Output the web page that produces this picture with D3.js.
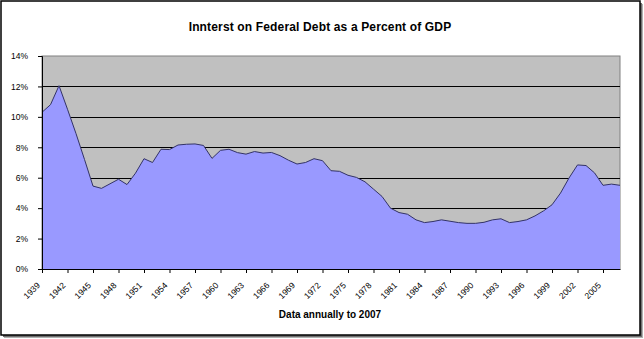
<!DOCTYPE html>
<html>
<head>
<meta charset="utf-8">
<script src="https://cdn.jsdelivr.net/npm/d3@7"></script>
<style>
  body { margin: 0; background: #fff; }
  svg { display: block; font-family: Arial, "Liberation Sans", sans-serif; }
</style>
</head>
<body>
<div id="chart"></div>
<script>
// interest on federal debt, % of GDP
var years = d3.range(1939, 2008);
var pctGdp = [10.3, 10.8, 12.05, 10.5, 8.9, 7.2, 5.45, 5.3, 5.6, 5.9,
  5.55, 6.3, 7.25, 7.0, 7.87, 7.85, 8.15, 8.2, 8.22, 8.12,
  7.27, 7.8, 7.87, 7.65, 7.55, 7.72, 7.62, 7.66, 7.45, 7.15,
  6.9, 7.0, 7.25, 7.12, 6.46, 6.42, 6.16, 6.02, 5.73, 5.25,
  4.77, 4.0, 3.71, 3.6, 3.23, 3.05, 3.12, 3.23, 3.14, 3.05,
  3.0, 3.0, 3.07, 3.23, 3.3, 3.05, 3.12, 3.23, 3.49, 3.82,
  4.22, 4.99, 5.98, 6.84, 6.8, 6.32, 5.5, 5.58, 5.5];
var yTicks = [0, 2, 4, 6, 8, 10, 12, 14];
var xTicks = d3.range(1939, 2006, 3);

var width = 644, height = 339;
// plot box (window.top is taken, so use a margin object)
var plot = { left: 42, right: 620, top: 56, bottom: 269 };

var svg = d3.select("#chart").append("svg")
    .attr("width", width)
    .attr("height", height);

// outer frame with a little shadow
svg.append("rect").attr("x", 4).attr("y", 4).attr("width", 639).attr("height", 334)
    .attr("fill", "#b0b0b0");
svg.append("rect").attr("x", 3).attr("y", 3).attr("width", 639).attr("height", 334)
    .attr("fill", "#707070");
svg.append("rect").attr("x", 1).attr("y", 1).attr("width", 639).attr("height", 334)
    .attr("fill", "#fff").attr("stroke", "#000").attr("stroke-width", 1.5);

var x = d3.scaleLinear().domain([1939, 2007]).range([plot.left, plot.right]);
var y = d3.scaleLinear().domain([0, 14]).range([plot.bottom, plot.top]);

// plot background
svg.append("rect")
    .attr("x", plot.left).attr("y", plot.top)
    .attr("width", plot.right - plot.left).attr("height", plot.bottom - plot.top)
    .attr("fill", "#c0c0c0")
    .attr("stroke", "#808080").attr("stroke-width", 1);

// gridlines
svg.append("g").selectAll("line")
    .data(yTicks.filter(d => d > 0 && d < 14))
    .enter().append("line")
    .attr("x1", plot.left).attr("x2", plot.right)
    .attr("y1", d => Math.round(y(d)) + 0.5).attr("y2", d => Math.round(y(d)) + 0.5)
    .attr("stroke", "#000").attr("stroke-width", 1);

var data = years.map((yr, i) => ({ year: yr, v: pctGdp[i] }));

var area = d3.area()
    .x(d => x(d.year))
    .y0(y(0))
    .y1(d => y(d.v));

var line = d3.line()
    .x(d => x(d.year))
    .y(d => y(d.v));

svg.append("path")
    .datum(data)
    .attr("d", area)
    .attr("fill", "#9999ff");

svg.append("path")
    .datum(data)
    .attr("d", line)
    .attr("fill", "none")
    .attr("stroke", "#333366")
    .attr("stroke-width", 1);

// y axis
var yAxis = d3.axisLeft(y)
    .tickValues(yTicks)
    .tickSize(4)
    .tickPadding(10)
    .tickFormat(d => d + "%");

svg.append("g")
    .attr("transform", "translate(" + plot.left + ",0)")
    .call(yAxis)
    .call(g => g.select(".domain").attr("stroke", "#000"))
    .call(g => g.selectAll("text").attr("font-size", 8.5).attr("fill", "#000")
        .attr("font-family", "Arial, 'Liberation Sans', sans-serif"));

// x axis
var xAxis = d3.axisBottom(x)
    .tickValues(xTicks)
    .tickSize(4)
    .tickSizeOuter(0)
    .tickFormat(d3.format("d"));

svg.append("g")
    .attr("transform", "translate(0," + plot.bottom + ")")
    .call(xAxis)
    .call(g => g.select(".domain").attr("stroke", "#000"))
    .call(g => g.selectAll("text")
        .attr("font-size", 8.5)
        .attr("fill", "#000")
        .attr("font-family", "Arial, 'Liberation Sans', sans-serif")
        .attr("text-anchor", "end")
        .attr("dy", 0)
        .attr("dx", 0)
        .attr("y", 0)
        .attr("transform", "translate(-2,17) rotate(-45)"));

// titles
svg.append("text")
    .attr("x", 320).attr("y", 31)
    .attr("text-anchor", "middle")
    .attr("font-size", 12)
    .attr("font-weight", "bold")
    .attr("letter-spacing", 0.15)
    .text("Innterst on Federal Debt as a Percent of GDP");

svg.append("text")
    .attr("x", 330).attr("y", 318)
    .attr("text-anchor", "middle")
    .attr("font-size", 10)
    .attr("font-weight", "bold")
    .text("Data annually to 2007");
</script>
</body>
</html>
